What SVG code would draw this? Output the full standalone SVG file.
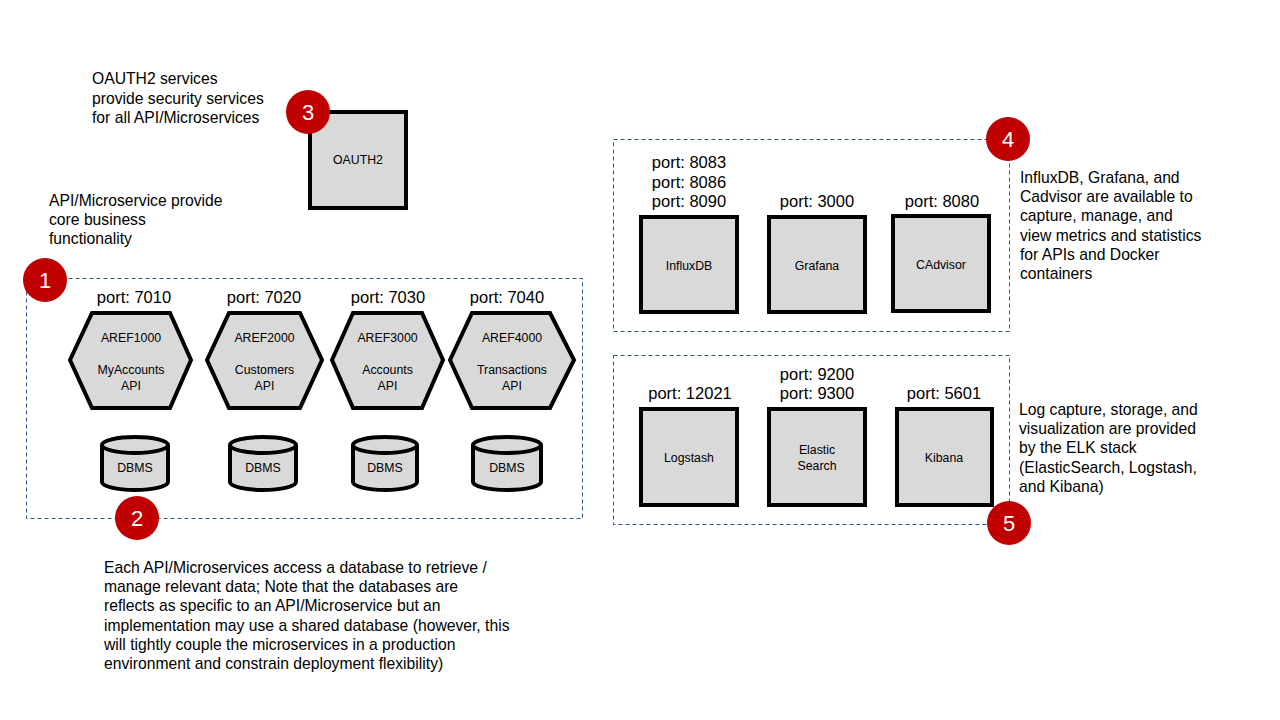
<svg xmlns="http://www.w3.org/2000/svg" width="1280" height="720" viewBox="0 0 1280 720">
<defs>
<style>
.t{font-family:"Liberation Sans",Arial,sans-serif;font-size:15.7px;fill:#000}
.p{font-family:"Liberation Sans",Arial,sans-serif;font-size:16.5px;fill:#000;text-anchor:middle}
.s{font-family:"Liberation Sans",Arial,sans-serif;font-size:12.3px;fill:#000;text-anchor:middle}
.n{fill:#D9D9D9;stroke:#000;stroke-width:4}
.g{fill:none;stroke:#2F5597;stroke-width:1;stroke-dasharray:4 3}
.b{fill:#C00000}
.bt{font-family:"Liberation Sans",Arial,sans-serif;font-size:22px;fill:#fff;text-anchor:middle}
</style>
</defs>
<rect width="1280" height="720" fill="#fff"/>
<g id="groups">
<rect class="g" x="26.5" y="278.5" width="556" height="240"/>
<rect class="g" x="613.5" y="139.5" width="396" height="192"/>
<rect class="g" x="613.5" y="355.5" width="396" height="169"/>
</g>
<g id="connectors"></g>
<g id="oauth2"><rect class="n" x="310" y="112" width="96" height="96"/><text class="s" x="358" y="164">OAUTH2</text></g>
<g id="aref1000"><polygon class="n" points="70,360 92,313 170,313 191,360 170,408 92,408"/><text class="s" x="131" y="342">AREF1000</text><text class="s" x="131" y="374">MyAccounts</text><text class="s" x="131" y="390">API</text></g>
<g id="aref2000"><polygon class="n" points="207,360 229,313 300,313 322,360 300,408 229,408"/><text class="s" x="264.5" y="342">AREF2000</text><text class="s" x="264.5" y="374">Customers</text><text class="s" x="264.5" y="390">API</text></g>
<g id="aref3000"><polygon class="n" points="332,360 353,313 422,313 443,360 422,408 353,408"/><text class="s" x="387.5" y="342">AREF3000</text><text class="s" x="387.5" y="374">Accounts</text><text class="s" x="387.5" y="390">API</text></g>
<g id="aref4000"><polygon class="n" points="450,360 472,313 550,313 574,360 550,408 472,408"/><text class="s" x="512" y="342">AREF4000</text><text class="s" x="512" y="374">Transactions</text><text class="s" x="512" y="390">API</text></g>
<g id="ports1">
<text class="p" x="134" y="303">port: 7010</text>
<text class="p" x="264" y="303">port: 7020</text>
<text class="p" x="388" y="303">port: 7030</text>
<text class="p" x="507" y="303">port: 7040</text>
</g>
<g id="dbms1"><path class="n" d="M102,445 A33,8 0 0 1 168,445 V482 A33,8 0 0 1 102,482 Z"/><path d="M102,445 A33,8 0 0 0 168,445" fill="none" stroke="#000" stroke-width="4"/><text class="s" x="135" y="472">DBMS</text></g>
<g id="dbms2"><path class="n" d="M230,445 A33,8 0 0 1 296,445 V482 A33,8 0 0 1 230,482 Z"/><path d="M230,445 A33,8 0 0 0 296,445" fill="none" stroke="#000" stroke-width="4"/><text class="s" x="263" y="472">DBMS</text></g>
<g id="dbms3"><path class="n" d="M353,445 A32,8 0 0 1 417,445 V482 A32,8 0 0 1 353,482 Z"/><path d="M353,445 A32,8 0 0 0 417,445" fill="none" stroke="#000" stroke-width="4"/><text class="s" x="385" y="472">DBMS</text></g>
<g id="dbms4"><path class="n" d="M473,445 A34,8 0 0 1 541,445 V482 A34,8 0 0 1 473,482 Z"/><path d="M473,445 A34,8 0 0 0 541,445" fill="none" stroke="#000" stroke-width="4"/><text class="s" x="507" y="472">DBMS</text></g>
<g id="influxdb"><rect class="n" x="641" y="217" width="96" height="95"/><text class="s" x="689" y="270">InfluxDB</text></g>
<g id="grafana"><rect class="n" x="769" y="217" width="96" height="95"/><text class="s" x="817" y="270">Grafana</text></g>
<g id="cadvisor"><rect class="n" x="893" y="216" width="96" height="95"/><text class="s" x="941" y="269">CAdvisor</text></g>
<g id="ports2">
<text class="p" x="689" y="168">port: 8083</text>
<text class="p" x="689" y="188">port: 8086</text>
<text class="p" x="689" y="207">port: 8090</text>
<text class="p" x="817" y="207">port: 3000</text>
<text class="p" x="942" y="207">port: 8080</text>
</g>
<g id="logstash"><rect class="n" x="641" y="409" width="96" height="96"/><text class="s" x="689" y="462">Logstash</text></g>
<g id="elastic"><rect class="n" x="769" y="409" width="96" height="96"/><text class="s" x="817" y="454">Elastic</text><text class="s" x="817" y="470">Search</text></g>
<g id="kibana"><rect class="n" x="897" y="409" width="95" height="96"/><text class="s" x="944" y="462">Kibana</text></g>
<g id="ports3">
<text class="p" x="690" y="399">port: 12021</text>
<text class="p" x="817" y="380">port: 9200</text>
<text class="p" x="817" y="399">port: 9300</text>
<text class="p" x="944" y="399">port: 5601</text>
</g>
<g id="badges">
<circle class="b" cx="45" cy="280" r="22"/><text class="bt" x="45" y="288">1</text>
<circle class="b" cx="137" cy="518" r="22"/><text class="bt" x="137" y="526">2</text>
<circle class="b" cx="308" cy="112" r="22"/><text class="bt" x="308" y="120">3</text>
<circle class="b" cx="1008" cy="139" r="22"/><text class="bt" x="1008" y="147">4</text>
<circle class="b" cx="1009" cy="523" r="22"/><text class="bt" x="1009" y="531">5</text>
</g>
<g id="notes">
<text class="t" x="92" y="84">OAUTH2 services</text>
<text class="t" x="92" y="104">provide security services</text>
<text class="t" x="92" y="123">for all API/Microservices</text>
<text class="t" x="49" y="206">API/Microservice provide</text>
<text class="t" x="49" y="225">core business</text>
<text class="t" x="49" y="244">functionality</text>
<text class="t" x="1020" y="183">InfluxDB, Grafana, and</text>
<text class="t" x="1020" y="202">Cadvisor are available to</text>
<text class="t" x="1020" y="221">capture, manage, and</text>
<text class="t" x="1020" y="241">view metrics and statistics</text>
<text class="t" x="1020" y="260">for APIs and Docker</text>
<text class="t" x="1020" y="279">containers</text>
<text class="t" x="1019" y="415">Log capture, storage, and</text>
<text class="t" x="1019" y="434">visualization are provided</text>
<text class="t" x="1019" y="453">by the ELK stack</text>
<text class="t" x="1019" y="473">(ElasticSearch, Logstash,</text>
<text class="t" x="1019" y="492">and Kibana)</text>
<text class="t" x="104" y="573">Each API/Microservices access a database to retrieve /</text>
<text class="t" x="104" y="592">manage relevant data; Note that the databases are</text>
<text class="t" x="104" y="611">reflects as specific to an API/Microservice but an</text>
<text class="t" x="104" y="631">implementation may use a shared database (however, this</text>
<text class="t" x="104" y="650">will tightly couple the microservices in a production</text>
<text class="t" x="104" y="669">environment and constrain deployment flexibility)</text>
</g>
</svg>
